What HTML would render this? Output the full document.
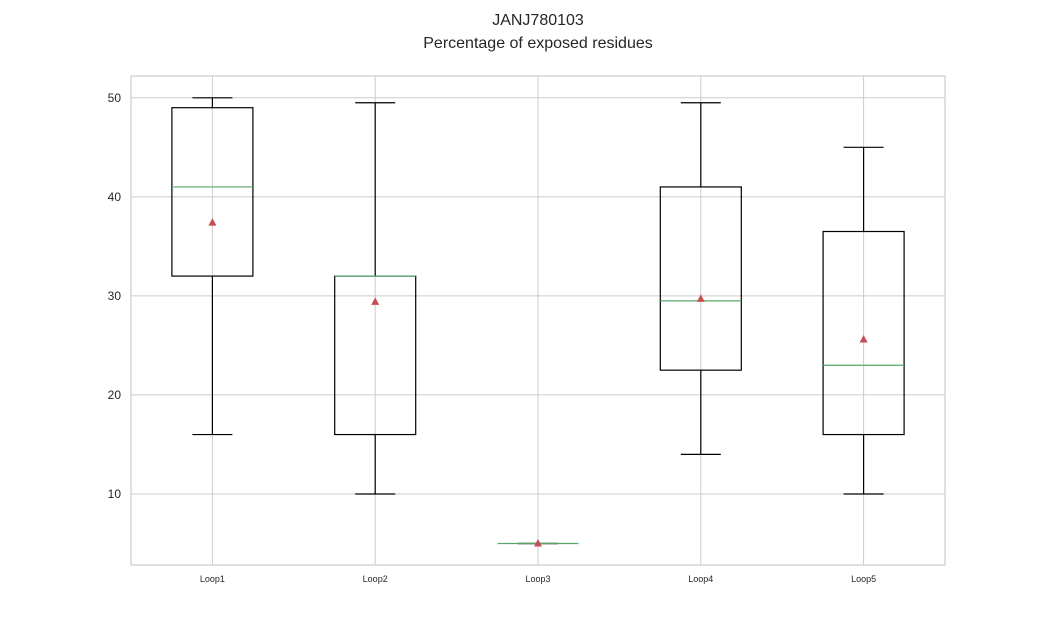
<!DOCTYPE html>
<html><head><meta charset="utf-8"><style>
body{margin:0;background:#fff;}
svg text{font-family:"Liberation Sans","DejaVu Sans",sans-serif;}
</style></head><body>
<svg id="chart" width="1050" height="635" xmlns="http://www.w3.org/2000/svg">
<text x="538" y="25" text-anchor="middle" font-size="16" fill="#262626">JANJ780103</text>
<text x="538" y="48" text-anchor="middle" font-size="16" fill="#262626">Percentage of exposed residues</text>
<g id="grid"></g><g id="boxes"></g><g id="axes"></g>
</svg>
<script>
const categories=["Loop1","Loop2","Loop3","Loop4","Loop5"];
const whiskerLow=[16,10,5,14,10];
const q1=[32,16,5,22.5,16];
const medians=[41,32,5,29.5,23];
const q3=[49,32,5,41,36.5];
const whiskerHigh=[50,49.5,5,49.5,45];
const means=[37.4,29.4,5,29.7,25.6];
const yTicks=[10,20,30,40,50];

const L=131,R=945,T=76,B=565,ymin=2.83,ymax=52.2;
const y=v=>B-(v-ymin)/(ymax-ymin)*(B-T);
const step=(R-L)/categories.length;
const x=i=>L+step*(i+0.5);
const NS="http://www.w3.org/2000/svg";
function mk(parent,tag,attrs){const e=document.createElementNS(NS,tag);for(const k in attrs)e.setAttribute(k,attrs[k]);parent.appendChild(e);return e;}
const grid=document.getElementById('grid'),boxes=document.getElementById('boxes'),axes=document.getElementById('axes');
yTicks.forEach(t=>{
  const g=mk(grid,'line',{x1:L,x2:R,y1:y(t),y2:y(t),stroke:'#cccccc','stroke-width':1});
  
  
  const tx=mk(axes,'text',{x:L-10,y:y(t)+4,'text-anchor':'end','font-size':12,fill:'#262626'});
  tx.textContent=t;
  
  
});
categories.forEach((c,i)=>{
  const gl=mk(grid,'line',{x1:x(i),x2:x(i),y1:T,y2:B,stroke:'#cccccc','stroke-width':1});
  
  
  const g=mk(boxes,'g',{});
  
  
  const cx=x(i),hw=40.5,cw=20;
  mk(g,'line',{x1:cx,x2:cx,y1:y(whiskerLow[i]),y2:y(q1[i]),stroke:'#000','stroke-width':1.2});
  mk(g,'line',{x1:cx,x2:cx,y1:y(q3[i]),y2:y(whiskerHigh[i]),stroke:'#000','stroke-width':1.2});
  mk(g,'line',{x1:cx-cw,x2:cx+cw,y1:y(whiskerLow[i]),y2:y(whiskerLow[i]),stroke:'#000','stroke-width':1.2});
  mk(g,'line',{x1:cx-cw,x2:cx+cw,y1:y(whiskerHigh[i]),y2:y(whiskerHigh[i]),stroke:'#000','stroke-width':1.2});
  mk(g,'rect',{x:cx-hw,y:y(q3[i]),width:hw*2,height:Math.max(0,y(q1[i])-y(q3[i])),fill:'none',stroke:'#000','stroke-width':1.2});
  mk(g,'line',{x1:cx-hw,x2:cx+hw,y1:y(medians[i]),y2:y(medians[i]),stroke:'#55a868','stroke-width':1.2});
  const my=y(means[i]);
  const m=mk(g,'path',{d:`M${cx},${my-4.5}L${cx+4},${my+3}L${cx-4},${my+3}Z`,fill:'#c44e52'});
  
  
  const lb=mk(axes,'text',{x:cx,y:582,'text-anchor':'middle','font-size':9,fill:'#262626'});
  lb.textContent=c;
  
  
});
const fr=mk(axes,'rect',{x:L,y:T,width:R-L,height:B-T,fill:'none',stroke:'#cccccc','stroke-width':1.2});


</script>
</body></html>
